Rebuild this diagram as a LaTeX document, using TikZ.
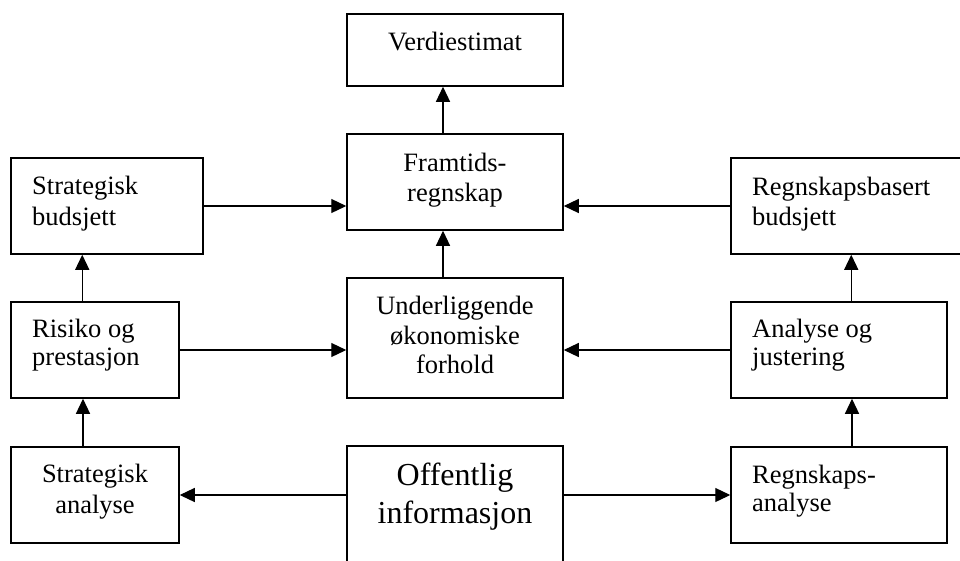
\documentclass[tikz,border=0pt]{standalone}
\usepackage{fontspec}
\setmainfont{Liberation Serif}
\usetikzlibrary{arrows.meta}
\begin{document}
\begin{tikzpicture}[x=1pt,y=-1pt,
  box/.style={draw, line width=1.5pt, rectangle, inner sep=0pt},
  txt/.style={inner sep=0pt, font=\fontsize{26.5}{31}\selectfont},
  arr/.style={line width=1.2pt, -{Triangle[length=15pt,width=14pt]}}]
\useasboundingbox (0,0) rectangle (960,560);
% boxes
\node[box, minimum width=216pt, minimum height=72pt]  (v)   at (455,50)  {};
\node[box, minimum width=216pt, minimum height=96pt]  (f)   at (455,182) {};
\node[box, minimum width=216pt, minimum height=120pt] (u)   at (455,338) {};
\node[box, minimum width=216pt, minimum height=154pt] (o)   at (455,523) {};
\node[box, minimum width=192pt, minimum height=96pt]  (sb)  at (107,206) {};
\node[box, minimum width=168pt, minimum height=96pt]  (r)   at (95,350)  {};
\node[box, minimum width=168pt, minimum height=96pt]  (sa)  at (95,495)  {};
\node[box, minimum width=242pt, minimum height=96pt]  (ra)  at (852,206) {};
\node[box, minimum width=216pt, minimum height=96pt]  (aj)  at (839,350) {};
\node[box, minimum width=216pt, minimum height=96pt]  (rka) at (839,495) {};
% texts
\node[txt, anchor=north, align=center] (tv) at (455,32) {Verdiestimat};
\node[txt, anchor=north, align=center, font=\fontsize{26.5}{30}\selectfont] (tf) at (455,152.5) {Framtids-\\regnskap};
\node[txt, anchor=north, align=center, font=\fontsize{26.5}{29.5}\selectfont] (tu) at (455,296) {Underliggende\\økonomiske\\forhold};
\node[txt, anchor=north, align=center, font=\fontsize{32}{38}\selectfont] (to) at (455,463) {Offentlig\\informasjon};
\node[txt, anchor=north west, align=left] (tsb) at (32,176) {Strategisk\\budsjett};
\node[txt, anchor=north west, align=left, font=\fontsize{26.5}{28}\selectfont] (tr) at (32,319) {Risiko og\\prestasjon};
\node[txt, anchor=north, align=center] (tsa) at (95,464) {Strategisk\\analyse};
\node[txt, anchor=north west, align=left, font=\fontsize{26.5}{30}\selectfont] (tra) at (752,177) {Regnskapsbasert\\budsjett};
\node[txt, anchor=north west, align=left, font=\fontsize{26.5}{28}\selectfont] (taj) at (752,319) {Analyse og\\justering};
\node[txt, anchor=north west, align=left, font=\fontsize{26.5}{28}\selectfont] (trka) at (752,465) {Regnskaps-\\analyse};
% connectors
\draw[arr] ([xshift=-12pt]f.north) -- ([xshift=-12pt]v.south);
\draw[arr] ([xshift=-12pt]u.north) -- ([xshift=-12pt]f.south);
\draw[arr] (sb.east) -- (sb.east -| f.west);
\draw[arr] (ra.west) -- (ra.west -| f.east);
\draw[arr] (r.east) -- (r.east -| u.west);
\draw[arr] (aj.west) -- (aj.west -| u.east);
\draw[arr] (o.west |- sa.east) -- (sa.east);
\draw[arr] (o.east |- rka.west) -- (rka.west);
\draw[arr] ([xshift=-12pt]sa.north) -- ([xshift=-12pt]r.south);
\draw[arr] ([xshift=72pt]r.north west) -- ([xshift=72pt]sb.south west);
\draw[arr] ([xshift=13pt]rka.north) -- ([xshift=13pt]aj.south);
\draw[arr] ([xshift=121pt]aj.north west) -- ([xshift=121pt]ra.south west);
\end{tikzpicture}
\end{document}
